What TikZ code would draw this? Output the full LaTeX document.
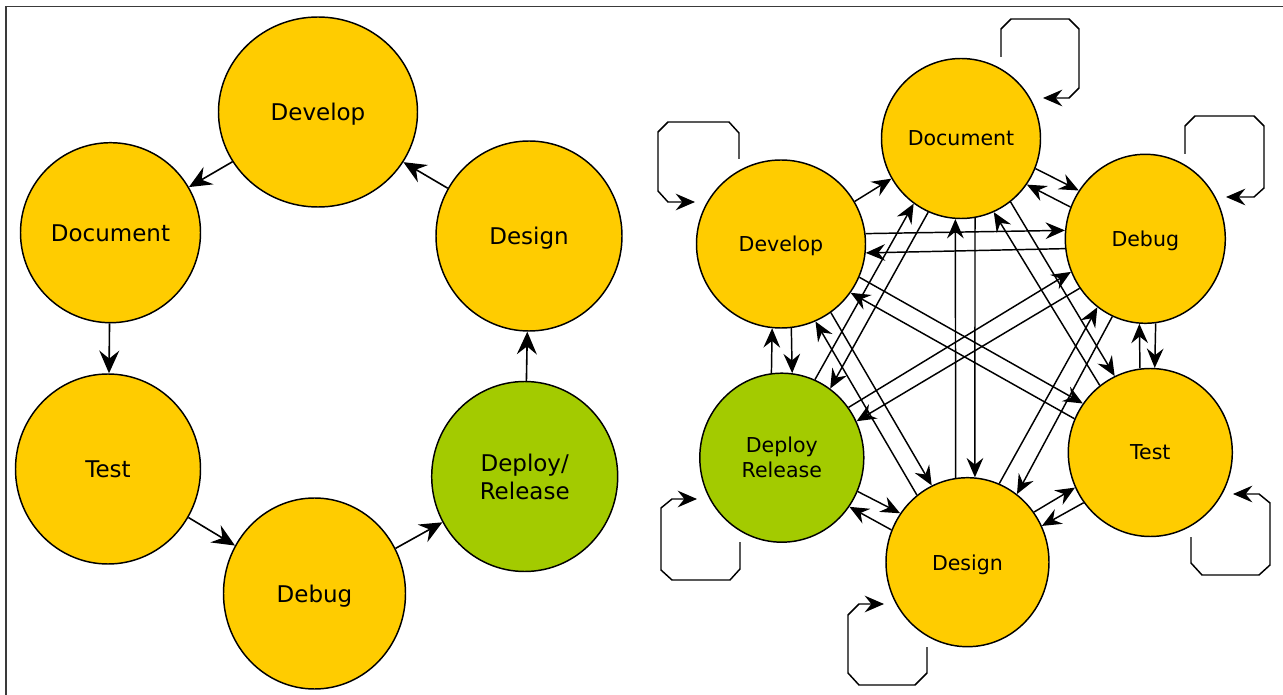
\documentclass[tikz,border=0pt]{standalone}
\usepackage{fontspec}
\setmainfont{DejaVu Sans}
\usetikzlibrary{shapes.geometric,arrows.meta,calc}
\definecolor{nodeyellow}{HTML}{FFCC00}
\definecolor{nodegreen}{HTML}{A3CB00}
\definecolor{framegray}{HTML}{3A3A3A}
\begin{document}
\begin{tikzpicture}[x=0.75pt,y=-0.75pt,
  bigstate/.style={ellipse,draw=black,line width=1.1pt,fill=nodeyellow,inner sep=0pt,text depth=0pt,align=center,font=\fontsize{17.25pt}{21pt}\selectfont},
  smallstate/.style={ellipse,draw=black,line width=1.1pt,fill=nodeyellow,inner sep=0pt,text depth=0pt,align=center,font=\fontsize{15.4pt}{18.75pt}\selectfont},
  greenfill/.style={fill=nodegreen},
  bigarrow/.style={line width=1.2pt,-{Stealth[length=17pt,width=15pt,inset=6pt]}},
  smallarrow/.style={line width=1.1pt,-{Stealth[length=14.5pt,width=12.5pt,inset=5pt]}},
]
\useasboundingbox (0,0) rectangle (1283,695);
\draw[framegray,line width=1.1pt] (6,695) -- (6,6.7) -- (1283,6.7);

% ---------- left cycle ----------
\node[bigstate,minimum width=149.25pt,minimum height=142.5pt] (ldev) at (318,112) {Develop};
\node[bigstate,minimum width=135pt,minimum height=135pt] (ldoc) at (110.5,232.7) {Document};
\node[bigstate,minimum width=139.5pt,minimum height=142.5pt] (ldes) at (529,236) {Design};
\node[bigstate,minimum width=138.75pt,minimum height=142.5pt] (ltst) at (108,469) {Test};
\node[bigstate,minimum width=136.5pt,minimum height=143.25pt] (ldbg) at (314.5,593.5) {Debug};
\node[bigstate,greenfill,minimum width=139.5pt,minimum height=142.5pt] (ldep) at (524.7,476.5) {Deploy/\\Release};

\draw[bigarrow] (ldev) -- (ldoc);
\draw[bigarrow] (ldoc) -- (ltst);
\draw[bigarrow] (ltst) -- (ldbg);
\draw[bigarrow] (ldbg) -- (ldep);
\draw[bigarrow] (ldep) -- (ldes);
\draw[bigarrow] (ldes) -- (ldev);

% ---------- right complete graph ----------
\node[smallstate,minimum width=119.25pt,minimum height=120pt] (rdoc) at (961,138.5) {Document};
\node[smallstate,minimum width=126.75pt,minimum height=126pt] (rdev) at (781,244) {Develop};
\node[smallstate,minimum width=120pt,minimum height=126.75pt] (rdbg) at (1145.3,238.8) {Debug};
\node[smallstate,greenfill,minimum width=123pt,minimum height=126.75pt] (rdep) at (781.8,457.7) {Deploy\\Release};
\node[smallstate,minimum width=123pt,minimum height=126pt] (rtst) at (1150.3,452.5) {Test};
\node[smallstate,minimum width=122.25pt,minimum height=126.75pt] (rdes) at (967.5,562.2) {Design};

\draw[smallarrow] (rdev.30) -- (rdoc.-150);
\draw[smallarrow] (rdoc.-22) -- (rdbg.144);
\draw[smallarrow] (rdbg.157) -- (rdoc.-35);
\draw[smallarrow] (rdev.7) -- (rdbg.174);
\draw[smallarrow] (rdbg.-173) -- (rdev.-6);
\draw[smallarrow] (rdev.-23) -- (rtst.144);
\draw[smallarrow] (rtst.156) -- (rdev.-35);
\draw[smallarrow] (rdep.37) -- (rdbg.-156);
\draw[smallarrow] (rdbg.-143) -- (rdep.26);
\draw[smallarrow] (rdep.67) -- (rdoc.-126);
\draw[smallarrow] (rdoc.-114) -- (rdep.55);
\draw[smallarrow] (rdev.-83) -- (rdep.83);
\draw[smallarrow] (rdep.97) -- (rdev.-96);
\draw[smallarrow] (rdbg.-83) -- (rtst.87);
\draw[smallarrow] (rtst.97) -- (rdbg.-94);
\draw[smallarrow] (rdev.-54) -- (rdes.115);
\draw[smallarrow] (rdes.127) -- (rdev.-66);
\draw[smallarrow] (rdbg.-113) -- (rdes.54);
\draw[smallarrow] (rdes.68) -- (rdbg.-125);
\draw[smallarrow] (rdep.-24) -- (rdes.144);
\draw[smallarrow] (rdes.157) -- (rdep.-36);
\draw[smallarrow] (rdes.37) -- (rtst.-155);
\draw[smallarrow] (rtst.-143) -- (rdes.26);
\draw[smallarrow] (rdoc.-52) -- (rtst.115);
\draw[smallarrow] (rtst.127) -- (rdoc.-66);
\draw[smallarrow] (rdoc.-80) -- (rdes.85);
\draw[smallarrow] (rdes.98) -- (rdoc.-94);

% self loops
\draw[smallarrow] ([shift={(40,-81.5)}]rdoc.center) -- ++(0,-28) -- ++(10,-10) -- ++(58,0) -- ++(10,10) -- ++(0,59) -- ++(-10,10) -- ++(-26,0);
\draw[smallarrow] ([shift={(-42,-85)}]rdev.center) -- ++(0,-26) -- ++(-10,-11) -- ++(-61,0) -- ++(-10,10) -- ++(0,59) -- ++(10,11) -- ++(27,0);
\draw[smallarrow] ([shift={(39.7,-84.8)}]rdbg.center) -- ++(0,-28) -- ++(10,-10) -- ++(59,0) -- ++(10,10) -- ++(0,62) -- ++(-10,9) -- ++(-28,0);
\draw[smallarrow] ([shift={(-41.8,84.3)}]rdep.center) -- ++(0,27) -- ++(-10,11) -- ++(-58,0) -- ++(-11,-10) -- ++(0,-62) -- ++(11,-9) -- ++(25,0);
\draw[smallarrow] ([shift={(-40.5,84.8)}]rdes.center) -- ++(0,26) -- ++(-12,12) -- ++(-56,0) -- ++(-11,-12) -- ++(0,-58) -- ++(11,-11) -- ++(25,0);
\draw[smallarrow] ([shift={(40.7,84.5)}]rtst.center) -- ++(0,26) -- ++(11,12) -- ++(57,0) -- ++(11,-10) -- ++(0,-62) -- ++(-11,-9) -- ++(-26,0);
\end{tikzpicture}
\end{document}
